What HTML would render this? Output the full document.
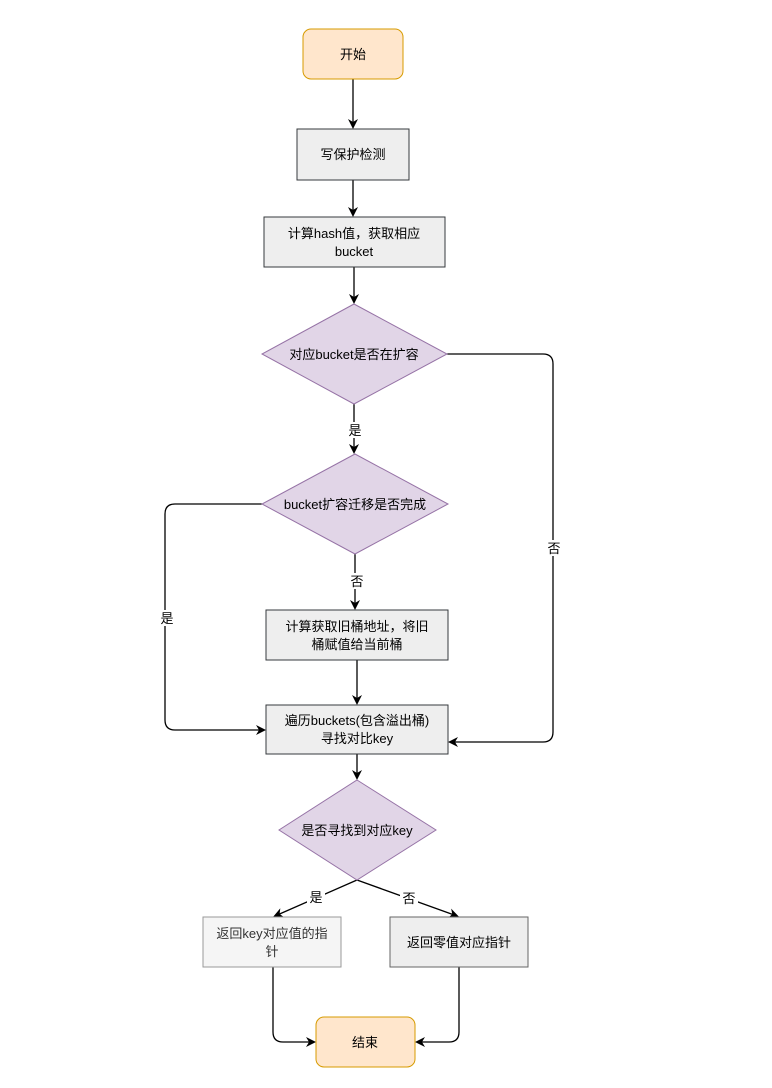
<!DOCTYPE html>
<html><head><meta charset="utf-8"><style>
body{margin:0;background:#fff;}
svg text{font-family:"Liberation Sans","Noto Sans CJK SC",sans-serif;font-size:13px;fill:#000;}
</style></head><body>
<svg width="772" height="1083" viewBox="0 0 772 1083" xmlns="http://www.w3.org/2000/svg">
<defs><marker id="a" markerWidth="10" markerHeight="10" refX="8" refY="5" orient="auto" markerUnits="userSpaceOnUse"><path d="M0,0 L10,5 L0,10 L3,5 z" fill="#000"/></marker></defs>
<g stroke="#000" stroke-width="1.3" fill="none" marker-end="url(#a)">
<path d="M353,79 V127"/>
<path d="M353,180 V215"/>
<path d="M354,267 V302"/>
<path d="M354,404 V452"/>
<path d="M355,554 V608"/>
<path d="M357,660 V703"/>
<path d="M357,754 V778"/>
<path d="M447,354 H543 Q553,354 553,364 V732 Q553,742 543,742 H450"/>
<path d="M262,504 H175 Q165,504 165,514 V720 Q165,730 175,730 H264"/>
<path d="M357,880 L275,916"/>
<path d="M357,880 L457,916"/>
<path d="M273,967 V1032 Q273,1042 283,1042 H314"/>
<path d="M459,967 V1032 Q459,1042 449,1042 H417"/>
</g>
<rect x="303" y="29" width="100" height="50" rx="8" fill="#ffe6cc" stroke="#d79b00"/>
<text x="353" y="59" text-anchor="middle">开始</text>
<rect x="297" y="129" width="112" height="51" fill="#eeeeee" stroke="#36393d"/>
<text x="353" y="159" text-anchor="middle">写保护检测</text>
<rect x="264" y="217" width="181" height="50" fill="#eeeeee" stroke="#36393d"/>
<text x="354" y="238" text-anchor="middle">计算hash值，获取相应</text>
<text x="354" y="256" text-anchor="middle">bucket</text>
<polygon points="354,304 447,354 354,404 262,354" fill="#e1d5e7" stroke="#9673a6"/>
<text x="354" y="359" text-anchor="middle">对应bucket是否在扩容</text>
<polygon points="355,454 448,504 355,554 262,504" fill="#e1d5e7" stroke="#9673a6"/>
<text x="355" y="509" text-anchor="middle">bucket扩容迁移是否完成</text>
<rect x="266" y="610" width="182" height="50" fill="#eeeeee" stroke="#36393d"/>
<text x="357" y="631" text-anchor="middle">计算获取旧桶地址，将旧</text>
<text x="357" y="649" text-anchor="middle">桶赋值给当前桶</text>
<rect x="266" y="705" width="182" height="49" fill="#eeeeee" stroke="#36393d"/>
<text x="357" y="725" text-anchor="middle">遍历buckets(包含溢出桶)</text>
<text x="357" y="743" text-anchor="middle">寻找对比key</text>
<polygon points="357,780 436,830 357,880 279,830" fill="#e1d5e7" stroke="#9673a6"/>
<text x="357" y="835" text-anchor="middle">是否寻找到对应key</text>
<rect x="203" y="917" width="138" height="50" fill="#f5f5f5" stroke="#999"/>
<text x="272" y="938" text-anchor="middle" style="fill:#333">返回key对应值的指</text>
<text x="272" y="956" text-anchor="middle" style="fill:#333">针</text>
<rect x="390" y="917" width="138" height="50" fill="#eeeeee" stroke="#666"/>
<text x="459" y="947" text-anchor="middle">返回零值对应指针</text>
<rect x="316" y="1017" width="99" height="50" rx="8" fill="#ffe6cc" stroke="#d79b00"/>
<text x="365" y="1047" text-anchor="middle">结束</text>
<g>
<rect x="346" y="422" width="18" height="16" fill="#fff"/><text x="355" y="435" text-anchor="middle">是</text>
<rect x="348" y="573" width="18" height="16" fill="#fff"/><text x="357" y="586" text-anchor="middle">否</text>
<rect x="545" y="540" width="18" height="16" fill="#fff"/><text x="554" y="553" text-anchor="middle">否</text>
<rect x="158" y="610" width="18" height="16" fill="#fff"/><text x="167" y="623" text-anchor="middle">是</text>
<rect x="307" y="889" width="18" height="16" fill="#fff"/><text x="316" y="902" text-anchor="middle">是</text>
<rect x="400" y="890" width="18" height="16" fill="#fff"/><text x="409" y="903" text-anchor="middle">否</text>
</g>
</svg>
</body></html>
